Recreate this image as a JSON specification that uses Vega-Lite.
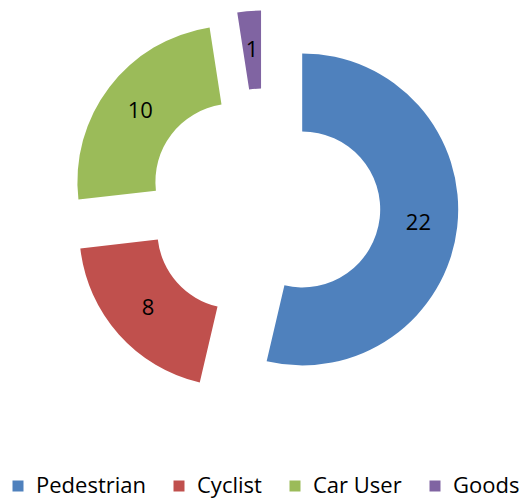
{
  "$schema": "https://vega.github.io/schema/vega-lite/v6.json",
  "width": 526,
  "height": 410,
  "padding": {"left": 0, "top": 0, "right": 0, "bottom": 6},
  "autosize": {"type": "pad"},
  "background": "white",
  "config": {
    "view": {"stroke": null},
    "font": "Open Sans",
    "legend": {
      "labelFont": "Open Sans",
      "labelFontSize": 22,
      "labelColor": "#000000",
      "symbolType": "square",
      "symbolSize": 121,
      "symbolStrokeWidth": 0,
      "labelOffset": 7,
      "columnPadding": 22,
      "padding": 0,
      "labelLimit": 300
    }
  },
  "data": {
    "values": [
      {"cat": "Pedestrian", "value": 22, "order": 1},
      {"cat": "Cyclist", "value": 8, "order": 2},
      {"cat": "Car User", "value": 10, "order": 3},
      {"cat": "Goods", "value": 1, "order": 4}
    ]
  },
  "encoding": {
    "theta": {"field": "value", "type": "quantitative", "stack": true},
    "order": {"field": "order", "type": "quantitative"}
  },
  "layer": [
    {
      "mark": {"type": "arc", "innerRadius": 78, "outerRadius": 156, "xOffset": 39.2, "yOffset": 4.4},
      "encoding": {
        "color": {"field": "cat", "type": "nominal", "sort": ["Pedestrian", "Cyclist", "Car User", "Goods"],
          "scale": {"domain": ["Pedestrian", "Cyclist", "Car User", "Goods"], "range": ["#4F81BD", "#C0504D", "#9BBB59", "#8064A2"]},
          "legend": {"orient": "none", "legendX": 7, "legendY": 475, "direction": "horizontal", "title": null}},
        "opacity": {"condition": {"test": "datum.cat === 'Pedestrian'", "value": 1}, "value": 0}
      }
    },
    {
      "mark": {"type": "arc", "innerRadius": 78, "outerRadius": 156, "xOffset": -27.7, "yOffset": 25.6},
      "encoding": {
        "color": {"field": "cat", "type": "nominal", "sort": ["Pedestrian", "Cyclist", "Car User", "Goods"],
          "scale": {"domain": ["Pedestrian", "Cyclist", "Car User", "Goods"], "range": ["#4F81BD", "#C0504D", "#9BBB59", "#8064A2"]},
          "legend": {"orient": "none", "legendX": 7, "legendY": 475, "direction": "horizontal", "title": null}},
        "opacity": {"condition": {"test": "datum.cat === 'Cyclist'", "value": 1}, "value": 0}
      }
    },
    {
      "mark": {"type": "arc", "innerRadius": 78, "outerRadius": 156, "xOffset": -29.6, "yOffset": -23.3},
      "encoding": {
        "color": {"field": "cat", "type": "nominal", "sort": ["Pedestrian", "Cyclist", "Car User", "Goods"],
          "scale": {"domain": ["Pedestrian", "Cyclist", "Car User", "Goods"], "range": ["#4F81BD", "#C0504D", "#9BBB59", "#8064A2"]},
          "legend": {"orient": "none", "legendX": 7, "legendY": 475, "direction": "horizontal", "title": null}},
        "opacity": {"condition": {"test": "datum.cat === 'Car User'", "value": 1}, "value": 0}
      }
    },
    {
      "mark": {"type": "arc", "innerRadius": 78, "outerRadius": 156, "xOffset": -1.95, "yOffset": -38.4},
      "encoding": {
        "color": {"field": "cat", "type": "nominal", "sort": ["Pedestrian", "Cyclist", "Car User", "Goods"],
          "scale": {"domain": ["Pedestrian", "Cyclist", "Car User", "Goods"], "range": ["#4F81BD", "#C0504D", "#9BBB59", "#8064A2"]},
          "legend": {"orient": "none", "legendX": 7, "legendY": 475, "direction": "horizontal", "title": null}},
        "opacity": {"condition": {"test": "datum.cat === 'Goods'", "value": 1}, "value": 0}
      }
    },
    {
      "mark": {"type": "text", "radius": 117, "xOffset": 39.2, "yOffset": 4.4, "fontSize": 22, "color": "#000000"},
      "encoding": {"text": {"condition": {"test": "datum.cat === 'Pedestrian'", "field": "value", "type": "quantitative"}, "value": ""}}
    },
    {
      "mark": {"type": "text", "radius": 117, "xOffset": -27.7, "yOffset": 25.6, "fontSize": 22, "color": "#000000"},
      "encoding": {"text": {"condition": {"test": "datum.cat === 'Cyclist'", "field": "value", "type": "quantitative"}, "value": ""}}
    },
    {
      "mark": {"type": "text", "radius": 117, "xOffset": -29.6, "yOffset": -23.3, "fontSize": 22, "color": "#000000"},
      "encoding": {"text": {"condition": {"test": "datum.cat === 'Car User'", "field": "value", "type": "quantitative"}, "value": ""}}
    },
    {
      "mark": {"type": "text", "radius": 117, "xOffset": -1.95, "yOffset": -38.4, "fontSize": 22, "color": "#000000"},
      "encoding": {"text": {"condition": {"test": "datum.cat === 'Goods'", "field": "value", "type": "quantitative"}, "value": ""}}
    }
  ]
}
